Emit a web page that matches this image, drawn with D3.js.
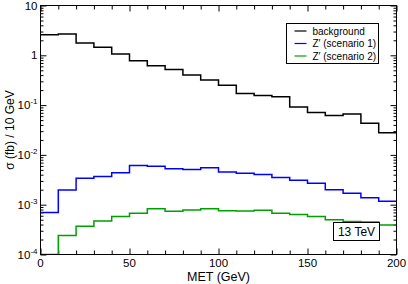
<!DOCTYPE html>
<html>
<head>
<meta charset="utf-8">
<script src="https://cdn.jsdelivr.net/npm/d3@7/dist/d3.min.js"></script>
<style>
  body { margin: 0; background: #fff; }
  text { font-family: "Liberation Sans", Arial, sans-serif; fill: #000; }
</style>
</head>
<body>
<div id="chart"></div>
<script>
// Bin lower edges (GeV), each bin 10 GeV wide
var binLow = [0, 10, 20, 30, 40, 50, 60, 70, 80, 90, 100, 110, 120, 130, 140, 150, 160, 170, 180, 190];
var binWidth = 10;

// sigma (fb) / 10 GeV per bin
var background = [2.6, 2.68, 1.77, 1.45, 1.06, 0.78, 0.62, 0.52, 0.40, 0.32, 0.25, 0.17, 0.155, 0.147, 0.092, 0.071, 0.062, 0.066, 0.043, 0.028];
var scenario1 = [7.0e-4, 1.97e-3, 3.4e-3, 3.7e-3, 4.4e-3, 6.1e-3, 5.9e-3, 5.3e-3, 5.1e-3, 5.5e-3, 4.55e-3, 4.3e-3, 4.05e-3, 3.5e-3, 3.1e-3, 2.7e-3, 2.0e-3, 1.7e-3, 1.38e-3, 1.17e-3];
var scenario2 = [0, 2.4e-4, 3.7e-4, 4.7e-4, 5.8e-4, 6.7e-4, 8.3e-4, 7.4e-4, 7.8e-4, 8.3e-4, 7.6e-4, 7.5e-4, 7.7e-4, 6.75e-4, 6.35e-4, 5.8e-4, 5.0e-4, 4.6e-4, 4.5e-4, 3.9e-4];

var seriesNames = ["background", "Z\u2032 (scenario 1)", "Z\u2032 (scenario 2)"];
var seriesColors = ["#000000", "#0000ff", "#00a000"];

// axis ticks
var xMajorTicks = [0, 50, 100, 150, 200];
var xMinorTicks = [10, 20, 30, 40, 60, 70, 80, 90, 110, 120, 130, 140, 160, 170, 180, 190];
var yMajorTicks = [1e-4, 1e-3, 1e-2, 1e-1, 1, 10];
var yTickExponents = ["-4", "-3", "-2", "-1", null, null];
var yTickBases = ["10", "10", "10", "10", "1", "10"];

var svgWidth = 408;
var svgHeight = 284;
var margin = { top: 5.5, right: 11.5, bottom: 29.5, left: 40.5 };
var chartWidth = svgWidth - margin.left - margin.right;
var chartHeight = svgHeight - margin.top - margin.bottom;

var svg = d3.select("#chart")
  .append("svg")
  .attr("width", svgWidth)
  .attr("height", svgHeight);

var chartGroup = svg.append("g")
  .attr("transform", `translate(${margin.left}, ${margin.top})`);

var xScale = d3.scaleLinear().domain([0, 200]).range([0, chartWidth]);
var yScale = d3.scaleLog().domain([1e-4, 10]).range([chartHeight, 0]);

// minor y ticks: 2..9 times each decade
var yMinorTicks = [];
yMajorTicks.slice(0, -1).forEach(function(d) {
  for (var k = 2; k <= 9; k++) yMinorTicks.push(d * k);
});

function addAxis(axis) {
  var g = chartGroup.append("g").call(axis);
  g.select(".domain").remove();
  g.selectAll(".tick line").attr("stroke", "#000");
  return g;
}

// bottom / top ticks pointing inward
addAxis(d3.axisBottom(xScale).tickValues(xMajorTicks).tickSize(-6).tickFormat(""))
  .attr("transform", `translate(0, ${chartHeight})`);
addAxis(d3.axisBottom(xScale).tickValues(xMinorTicks).tickSize(-4).tickFormat(""))
  .attr("transform", `translate(0, ${chartHeight})`);
addAxis(d3.axisTop(xScale).tickValues(xMajorTicks).tickSize(-6).tickFormat(""));
addAxis(d3.axisTop(xScale).tickValues(xMinorTicks).tickSize(-4).tickFormat(""));

// left / right ticks pointing inward
addAxis(d3.axisLeft(yScale).tickValues(yMajorTicks).tickSize(-6).tickFormat(""));
addAxis(d3.axisLeft(yScale).tickValues(yMinorTicks).tickSize(-3).tickFormat(""));
addAxis(d3.axisRight(yScale).tickValues(yMajorTicks).tickSize(-6).tickFormat(""))
  .attr("transform", `translate(${chartWidth}, 0)`);
addAxis(d3.axisRight(yScale).tickValues(yMinorTicks).tickSize(-3).tickFormat(""))
  .attr("transform", `translate(${chartWidth}, 0)`);

// x tick labels
chartGroup.selectAll(null)
  .data(xMajorTicks)
  .enter()
  .append("text")
  .attr("x", d => xScale(d))
  .attr("y", chartHeight + 12)
  .attr("text-anchor", "middle")
  .attr("font-size", "11.5px")
  .text(d => d);

// y tick labels with superscript exponents
var yLabels = chartGroup.selectAll(null)
  .data(yMajorTicks)
  .enter()
  .append("text")
  .attr("x", -3)
  .attr("y", d => yScale(d) + 4)
  .attr("text-anchor", "end")
  .attr("font-size", "11.5px");
yLabels.append("tspan").text((d, i) => yTickBases[i]);
yLabels.filter((d, i) => yTickExponents[i] !== null)
  .append("tspan")
  .attr("dy", -5)
  .attr("font-size", "8px")
  .text((d, i) => yTickExponents[yMajorTicks.indexOf(d)]);

// step lines
chartGroup.append("clipPath").attr("id", "plotClip")
  .append("rect").attr("width", chartWidth).attr("height", chartHeight);

var stepLine = d3.line()
  .x(d => xScale(d[0]))
  .y(d => yScale(Math.max(d[1], 1e-4)))
  .curve(d3.curveStepAfter);

[background, scenario1, scenario2].forEach(function(values, s) {
  var pts = binLow.map((b, i) => [b, values[i]]);
  pts.push([binLow[binLow.length - 1] + binWidth, values[values.length - 1]]);
  chartGroup.append("path")
    .datum(pts)
    .attr("clip-path", "url(#plotClip)")
    .attr("fill", "none")
    .attr("stroke", seriesColors[s])
    .attr("stroke-width", 1.5)
    .attr("d", stepLine);
});

// frame
chartGroup.append("rect")
  .attr("width", chartWidth)
  .attr("height", chartHeight)
  .attr("fill", "none")
  .attr("stroke", "#000")
  .attr("stroke-width", 1);

// legend
var legend = chartGroup.append("g")
  .attr("transform", `translate(${chartWidth - 110}, 18)`);
legend.append("rect")
  .attr("width", 92)
  .attr("height", 40)
  .attr("fill", "#fff")
  .attr("stroke", "#000");
seriesNames.forEach(function(name, i) {
  legend.append("line")
    .attr("x1", 8).attr("x2", 20)
    .attr("y1", 7.5 + i * 12.5).attr("y2", 7.5 + i * 12.5)
    .attr("stroke", seriesColors[i])
    .attr("stroke-width", 1.2);
  legend.append("text")
    .attr("x", 26)
    .attr("y", 11 + i * 12.5)
    .attr("font-size", "10px")
    .text(name);
});

// energy label
var energy = chartGroup.append("g")
  .attr("transform", `translate(${chartWidth - 63}, ${chartHeight - 32})`);
energy.append("rect")
  .attr("width", 46)
  .attr("height", 18)
  .attr("fill", "#fff")
  .attr("stroke", "#000");
energy.append("text")
  .attr("x", 23)
  .attr("y", 13.5)
  .attr("text-anchor", "middle")
  .attr("font-size", "12px")
  .text("13 TeV");

// axis titles
chartGroup.append("text")
  .attr("x", chartWidth / 2)
  .attr("y", chartHeight + 26)
  .attr("text-anchor", "middle")
  .attr("font-size", "12.5px")
  .text("MET (GeV)");

chartGroup.append("text")
  .attr("transform", `translate(${-27}, ${chartHeight / 2}) rotate(-90)`)
  .attr("text-anchor", "middle")
  .attr("font-size", "12px")
  .text("\u03c3 (fb) / 10 GeV");
</script>
</body>
</html>
